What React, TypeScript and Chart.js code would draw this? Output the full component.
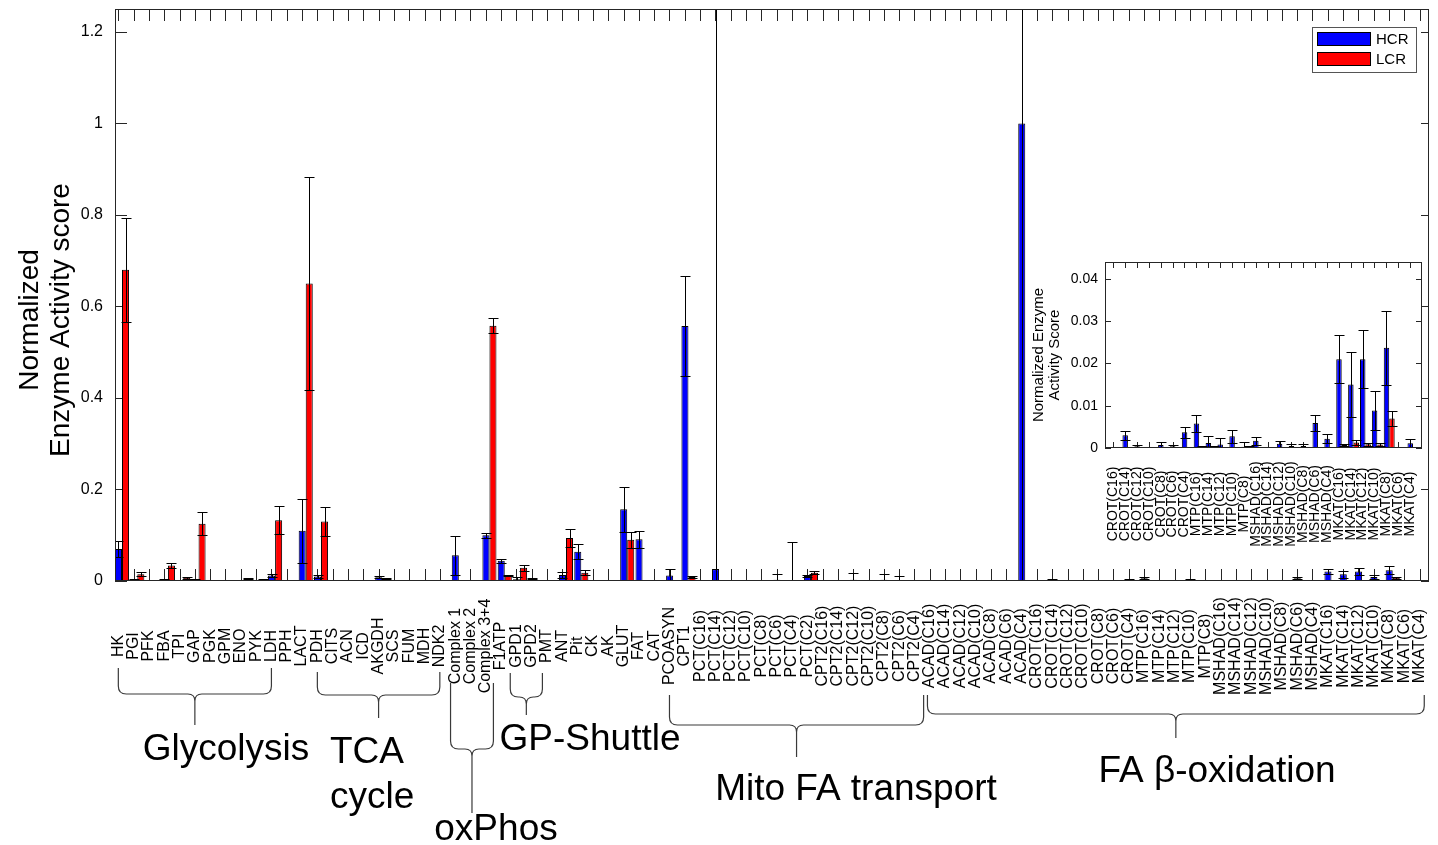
import React, { useEffect, useRef } from "react";
import { Chart, registerables } from "chart.js";

Chart.register(...registerables);

const FONT = '"Liberation Sans", Arial, Helvetica, sans-serif';
const HCR_COLOR = "#0000ff";
const LCR_COLOR = "#ff0000";
const AXIS_COLOR = "#262626";

// ---------------- data ----------------
const categories = [
  "HK", "PGI", "PFK", "FBA", "TPI", "GAP", "PGK", "GPM", "ENO", "PYK",
  "LDH", "PPH", "LACT", "PDH", "CITS", "ACN", "ICD", "AKGDH", "SCS", "FUM",
  "MDH", "NDK2", "Complex 1", "Complex 2", "Complex 3+4", "F1ATP", "GPD1", "GPD2", "PMT", "ANT",
  "Pit", "CK", "AK", "GLUT", "FAT", "CAT", "PCOASYN", "CPT1", "PCT(C16)", "PCT(C14)",
  "PCT(C12)", "PCT(C10)", "PCT(C8)", "PCT(C6)", "PCT(C4)", "PCT(C2)", "CPT2(C16)", "CPT2(C14)", "CPT2(C12)", "CPT2(C10)",
  "CPT2(C8)", "CPT2(C6)", "CPT2(C4)", "ACAD(C16)", "ACAD(C14)", "ACAD(C12)", "ACAD(C10)", "ACAD(C8)", "ACAD(C6)", "ACAD(C4)",
  "CROT(C16)", "CROT(C14)", "CROT(C12)", "CROT(C10)", "CROT(C8)", "CROT(C6)", "CROT(C4)", "MTP(C16)", "MTP(C14)", "MTP(C12)",
  "MTP(C10)", "MTP(C8)", "MSHAD(C16)", "MSHAD(C14)", "MSHAD(C12)", "MSHAD(C10)", "MSHAD(C8)", "MSHAD(C6)", "MSHAD(C4)", "MKAT(C16)",
  "MKAT(C14)", "MKAT(C12)", "MKAT(C10)", "MKAT(C8)", "MKAT(C6)", "MKAT(C4)",
];

const hcr = [
  0.07, 0.003, 0.001, 0.003, 0.002, 0.003, 0.001, 0, 0.001, 0.002,
  0.012, 0, 0.11, 0.01, 0, 0.001, 0.001, 0.008, 0.001, 0.001,
  0.001, 0.001, 0.056, 0, 0.1, 0.044, 0.004, 0.005, 0.001, 0.013,
  0.064, 0, 0, 0.157, 0.091, 0, 0.012, 0.557, 0, 0.026,
  0.001, 0.001, 0, 0.003, 0.001, 0.011, 0.001, 0, 0.003, 0,
  0.003, 0.002, 0.001, 0, 0, 0, 0.001, 0, 0, 1.0,
  0.0002, 0.003, 0.0004, 0.0002, 0.0007, 0.0004, 0.0037, 0.0058, 0.0012, 0.0008,
  0.0028, 0.0003, 0.0017, 0.0001, 0.001, 0.0005, 0.0005, 0.0059, 0.0022, 0.021,
  0.015, 0.021, 0.0089, 0.0237, 0.0002, 0.0011,
];

const hcrErr = [
  0.017, 0.001, 0.0005, 0.001, 0.001, 0.001, 0.0005, 0, 0, 0.001,
  0.004, 0, 0.07, 0.003, 0, 0, 0.001, 0.002, 0.001, 0.001,
  0.001, 0.001, 0.042, 0, 0.005, 0.004, 0.004, 0.001, 0.001, 0.006,
  0.017, 0, 0, 0.049, 0.019, 0, 0.015, 0.11, 0, 1.3,
  0, 0, 0, 0.012, 0.085, 0.003, 0, 0, 0.014, 0,
  0.013, 0.01, 0, 0, 0, 0, 0.002, 0, 0, 1.2,
  0.0001, 0.001, 0.0002, 0.0001, 0.0007, 0.0004, 0.0013, 0.0019, 0.0016, 0.0015,
  0.0015, 0.0011, 0.001, 0.0001, 0.0007, 0.0004, 0.0005, 0.0018, 0.001, 0.0057,
  0.0076, 0.0068, 0.0046, 0.0088, 0.0001, 0.0011,
];

const lcr = [
  0.68, 0.015, 0.002, 0.034, 0.007, 0.125, 0.001, 0, 0.005, 0.004,
  0.133, 0, 0.65, 0.13, 0, 0, 0.001, 0.005, 0.001, 0,
  0, 0.001, 0, 0, 0.558, 0.012, 0.029, 0.002, 0.001, 0.094,
  0.018, 0, 0, 0.09, 0.002, 0, 0, 0.009, 0, 0,
  0.001, 0.001, 0, 0, 0, 0.018, 0, 0, 0, 0,
  0, 0.001, 0, 0, 0, 0, 0, 0, 0, 0,
  0.0001, 0.0001, 0.0001, 0.0001, 0.0001, 0.0001, 0.0001, 0.0003, 0.0003, 0.0002,
  0.0002, 0.0003, 0.0001, 0.0001, 0.0001, 0.0001, 0.0001, 0.0001, 0.0001, 0.0007,
  0.0013, 0.0009, 0.0008, 0.007, 0.0002, 0.0001,
];

const lcrErr = [
  0.113, 0.004, 0.001, 0.006, 0.002, 0.025, 0.0005, 0, 0.001, 0.001,
  0.03, 0, 0.232, 0.031, 0, 0, 0, 0.001, 0, 0,
  0, 0, 0, 0, 0.016, 0.001, 0.007, 0.001, 0, 0.019,
  0.005, 0, 0, 0.017, 0.001, 0, 0, 0.002, 0, 0,
  0, 0, 0, 0, 0, 0.003, 0, 0, 0, 0,
  0, 0, 0, 0, 0, 0, 0, 0, 0, 0,
  0.0001, 0, 0, 0, 0, 0, 0, 0.0001, 0.0001, 0.0001,
  0.0001, 0.0002, 0, 0, 0, 0, 0, 0, 0, 0.0003,
  0.0007, 0.0004, 0.0004, 0.0018, 0.0001, 0,
];

const yTicks = [0, 0.2, 0.4, 0.6, 0.8, 1, 1.2];
const insetYTicks = [0, 0.01, 0.02, 0.03, 0.04];
const INSET_FROM = 60; // inset shows CROT(C16) .. MKAT(C4)

const seriesNames = ["HCR", "LCR"];
const yTitle = ["Normalized", "Enzyme Activity score"];
const insetYTitle = ["Normalized Enzyme", "Activity Score"];

// group annotations (brace spans in category index units, vertical layout in px)
const braces = [
  { from: 0, to: 10, top: 668, mid: 694, tip: 725, texts: [{ t: "Glycolysis", x: 226, y: 760, align: "center" }] },
  { from: 13, to: 21, top: 672, mid: 695, tip: 718, texts: [{ t: "TCA", x: 330, y: 763, align: "left" }, { t: "cycle", x: 330, y: 808, align: "left" }] },
  { from: 21.7, to: 24.5, top: 683, mid: 749, tip: 813, texts: [{ t: "oxPhos", x: 496, y: 840, align: "center" }] },
  { from: 25.6, to: 27.7, top: 673, mid: 697, tip: 715, texts: [{ t: "GP-Shuttle", x: 590, y: 750, align: "center" }] },
  { from: 36, to: 52.6, top: 695, mid: 725, tip: 757, texts: [{ t: "Mito FA transport", x: 856, y: 800, align: "center" }] },
  { from: 52.85, to: 85.3, top: 695, mid: 714, tip: 738, texts: [{ t: "FA \u03b2-oxidation", x: 1217, y: 782, align: "center" }] },
];

const LABEL_SHIFT = -0.24;

// ---------------- helpers ----------------
function errorBarPlugin(errs: number[][], capW: number) {
  return {
    id: "errbars",
    afterDatasetsDraw(chart: any) {
      const { ctx, chartArea: a } = chart;
      const ys = chart.scales.y;
      ctx.save();
      ctx.beginPath();
      ctx.rect(a.left, a.top, a.right - a.left, a.bottom - a.top);
      ctx.clip();
      ctx.strokeStyle = "#000";
      ctx.lineWidth = 1;
      chart.data.datasets.forEach((ds: any, di: number) => {
        const meta = chart.getDatasetMeta(di);
        meta.data.forEach((el: any, i: number) => {
          const e = errs[di][i];
          if (!e) return;
          const v = ds.data[i].y;
          const x = Math.round(el.x) + 0.5;
          const yHi = Math.round(ys.getPixelForValue(v + e)) + 0.5;
          const yLo = Math.round(ys.getPixelForValue(v - e)) + 0.5;
          ctx.beginPath();
          ctx.moveTo(x, yLo);
          ctx.lineTo(x, yHi);
          ctx.moveTo(x - capW / 2, yHi);
          ctx.lineTo(x + capW / 2, yHi);
          ctx.moveTo(x - capW / 2, yLo);
          ctx.lineTo(x + capW / 2, yLo);
          ctx.stroke();
        });
      });
      ctx.restore();
    },
  };
}

function rotatedText(ctx: CanvasRenderingContext2D, text: string, x: number, y: number) {
  ctx.save();
  ctx.translate(x, y);
  ctx.rotate(-Math.PI / 2);
  ctx.fillText(text, 0, 0);
  ctx.restore();
}

function drawBrace(ctx: CanvasRenderingContext2D, xl: number, xr: number, top: number, mid: number, tip: number) {
  const xc = (xl + xr) / 2;
  const r = Math.min(8, (mid - top) / 2, (xr - xl) / 4);
  const r2 = Math.min(7, (tip - mid) / 2, (xr - xl) / 4);
  ctx.beginPath();
  ctx.moveTo(xl, top);
  ctx.lineTo(xl, mid - r);
  ctx.quadraticCurveTo(xl, mid, xl + r, mid);
  ctx.lineTo(xc - r2, mid);
  ctx.quadraticCurveTo(xc, mid, xc, mid + r2);
  ctx.lineTo(xc, tip);
  ctx.moveTo(xc, mid + r2);
  ctx.quadraticCurveTo(xc, mid, xc + r2, mid);
  ctx.lineTo(xr - r, mid);
  ctx.quadraticCurveTo(xr, mid, xr, mid - r);
  ctx.lineTo(xr, top);
  ctx.stroke();
}

function barDatasets(from: number, to: number) {
  return [
    {
      label: seriesNames[0],
      data: hcr.slice(from, to).map((v, i) => ({ x: i, y: v })),
      backgroundColor: HCR_COLOR,
      borderColor: "#000",
      borderWidth: 1,
      borderSkipped: false,
      categoryPercentage: 0.92,
      barPercentage: 1,
    },
    {
      label: seriesNames[1],
      data: lcr.slice(from, to).map((v, i) => ({ x: i, y: v })),
      backgroundColor: LCR_COLOR,
      borderColor: "#000",
      borderWidth: 1,
      borderSkipped: false,
      categoryPercentage: 0.92,
      barPercentage: 1,
    },
  ];
}

// ---------------- main chart ----------------
function mainConfig(): any {
  const decor = {
    id: "mainDecor",
    beforeDatasetsDraw(chart: any) {
      const { ctx, chartArea: a, scales } = chart;
      const x = scales.x, y = scales.y;
      ctx.save();
      ctx.strokeStyle = AXIS_COLOR;
      ctx.lineWidth = 1;
      ctx.beginPath();
      categories.forEach((_, i) => {
        const px = Math.round(x.getPixelForValue(i + LABEL_SHIFT)) + 0.5;
        ctx.moveTo(px, a.top);
        ctx.lineTo(px, a.top + 12);
        ctx.moveTo(px, a.bottom);
        ctx.lineTo(px, a.bottom - 12);
      });
      yTicks.forEach((v) => {
        const py = Math.round(y.getPixelForValue(v)) + 0.5;
        ctx.moveTo(a.left, py);
        ctx.lineTo(a.left + 12, py);
        ctx.moveTo(a.right, py);
        ctx.lineTo(a.right - 8, py);
      });
      ctx.stroke();
      ctx.restore();
    },
    afterDraw(chart: any) {
      const { ctx, chartArea: a, scales } = chart;
      const x = scales.x;
      ctx.save();
      // axes box
      ctx.strokeStyle = AXIS_COLOR;
      ctx.lineWidth = 1;
      ctx.strokeRect(a.left + 0.5, a.top + 0.5, a.right - a.left - 1, a.bottom - a.top - 1);

      // category labels
      ctx.fillStyle = "#000";
      ctx.font = `16px ${FONT}`;
      ctx.textAlign = "center";
      ctx.textBaseline = "middle";
      categories.forEach((c, i) => {
        rotatedText(ctx, c, x.getPixelForValue(i + LABEL_SHIFT), 646);
      });

      // braces and group names
      ctx.strokeStyle = "#3a3a3a";
      ctx.lineWidth = 1.2;
      ctx.font = `37px ${FONT}`;
      ctx.textBaseline = "alphabetic";
      braces.forEach((b) => {
        const xl = x.getPixelForValue(b.from + LABEL_SHIFT);
        const xr = x.getPixelForValue(b.to + LABEL_SHIFT);
        drawBrace(ctx, xl, xr, b.top, b.mid, b.tip);
        b.texts.forEach((t) => {
          ctx.textAlign = t.align as CanvasTextAlign;
          ctx.fillText(t.t, t.x, t.y);
        });
      });

      // y title
      ctx.font = `28px ${FONT}`;
      ctx.textAlign = "center";
      ctx.textBaseline = "alphabetic";
      rotatedText(ctx, yTitle[0], 38, 320);
      rotatedText(ctx, yTitle[1], 69, 320);

      // legend
      const lx = 1312, ly = 27, lw = 104, lh = 45;
      ctx.fillStyle = "#fff";
      ctx.fillRect(lx, ly, lw, lh);
      ctx.strokeStyle = "#555";
      ctx.lineWidth = 1;
      ctx.strokeRect(lx + 0.5, ly + 0.5, lw, lh);
      [HCR_COLOR, LCR_COLOR].forEach((col, k) => {
        const sy = ly + 5 + k * 20;
        ctx.fillStyle = col;
        ctx.fillRect(lx + 5, sy, 54, 14);
        ctx.strokeStyle = "#000";
        ctx.strokeRect(lx + 5.5, sy + 0.5, 53, 13);
        ctx.fillStyle = "#000";
        ctx.font = `15px ${FONT}`;
        ctx.textAlign = "left";
        ctx.textBaseline = "middle";
        ctx.fillText(seriesNames[k], lx + 64, sy + 7.5);
      });
      ctx.restore();
    },
  };

  return {
    type: "bar",
    data: { datasets: barDatasets(0, categories.length) },
    options: {
      responsive: false,
      animation: false,
      devicePixelRatio: 1,
      layout: { padding: { top: 9, right: 9, left: 0, bottom: 0 } },
      plugins: { legend: { display: false }, tooltip: { enabled: false } },
      scales: {
        x: {
          type: "linear",
          min: -0.457,
          max: 85.37,
          offset: false,
          grid: { display: false, drawTicks: false, offset: false },
          border: { display: false },
          ticks: { display: false },
          afterBuildTicks: (s: any) => {
            s.ticks = categories.map((_, i) => ({ value: i }));
          },
          afterFit: (s: any) => {
            s.height = 264;
            s.paddingLeft = 0;
            s.paddingRight = 0;
          },
        },
        y: {
          min: 0,
          max: 1.25,
          grid: { display: false, drawTicks: false },
          border: { display: false },
          ticks: {
            color: "#000",
            font: { family: FONT, size: 16 },
            padding: 12,
            autoSkip: false,
            callback: (v: number) => String(v),
          },
          afterBuildTicks: (s: any) => {
            s.ticks = yTicks.map((v) => ({ value: v }));
          },
          afterFit: (s: any) => {
            s.width = 115;
            s.paddingTop = 0;
            s.paddingBottom = 0;
          },
        },
      },
    },
    plugins: [errorBarPlugin([hcrErr, lcrErr], 10), decor],
  };
}

// ---------------- inset chart ----------------
function insetConfig(): any {
  const insetCats = categories.slice(INSET_FROM);
  const decor = {
    id: "insetDecor",
    beforeDraw(chart: any) {
      const { ctx, chartArea: a } = chart;
      ctx.save();
      ctx.fillStyle = "#fff";
      ctx.fillRect(a.left, a.top, a.right - a.left, a.bottom - a.top);
      ctx.restore();
    },
    beforeDatasetsDraw(chart: any) {
      const { ctx, chartArea: a, scales } = chart;
      const x = scales.x, y = scales.y;
      ctx.save();
      ctx.strokeStyle = AXIS_COLOR;
      ctx.lineWidth = 1;
      ctx.beginPath();
      insetCats.forEach((_, i) => {
        const px = Math.round(x.getPixelForValue(i + LABEL_SHIFT)) + 0.5;
        ctx.moveTo(px, a.top);
        ctx.lineTo(px, a.top + 6);
        ctx.moveTo(px, a.bottom);
        ctx.lineTo(px, a.bottom - 6);
      });
      insetYTicks.forEach((v) => {
        const py = Math.round(y.getPixelForValue(v)) + 0.5;
        ctx.moveTo(a.left, py);
        ctx.lineTo(a.left + 6, py);
        ctx.moveTo(a.right, py);
        ctx.lineTo(a.right - 6, py);
      });
      ctx.stroke();
      ctx.restore();
    },
    afterDraw(chart: any) {
      const { ctx, chartArea: a, scales } = chart;
      const x = scales.x;
      ctx.save();
      ctx.strokeStyle = AXIS_COLOR;
      ctx.lineWidth = 1;
      ctx.strokeRect(a.left + 0.5, a.top + 0.5, a.right - a.left - 1, a.bottom - a.top - 1);
      ctx.fillStyle = "#000";
      ctx.font = `14px ${FONT}`;
      ctx.textAlign = "center";
      ctx.textBaseline = "middle";
      insetCats.forEach((c, i) => {
        rotatedText(ctx, c, x.getPixelForValue(i + LABEL_SHIFT), 254);
      });
      ctx.font = `15px ${FONT}`;
      ctx.textBaseline = "alphabetic";
      const cy = (a.top + a.bottom) / 2;
      rotatedText(ctx, insetYTitle[0], 43, cy);
      rotatedText(ctx, insetYTitle[1], 59, cy);
      ctx.restore();
    },
  };

  return {
    type: "bar",
    data: { datasets: barDatasets(INSET_FROM, categories.length) },
    options: {
      responsive: false,
      animation: false,
      devicePixelRatio: 1,
      layout: { padding: { top: 12, right: 16, left: 0, bottom: 0 } },
      plugins: { legend: { display: false }, tooltip: { enabled: false } },
      scales: {
        x: {
          type: "linear",
          min: -0.93,
          max: 25.76,
          offset: false,
          grid: { display: false, drawTicks: false, offset: false },
          border: { display: false },
          ticks: { display: false },
          afterBuildTicks: (s: any) => {
            s.ticks = insetCats.map((_, i) => ({ value: i }));
          },
          afterFit: (s: any) => {
            s.height = 122;
            s.paddingLeft = 0;
            s.paddingRight = 0;
          },
        },
        y: {
          min: 0,
          max: 0.044,
          grid: { display: false, drawTicks: false },
          border: { display: false },
          ticks: {
            color: "#000",
            font: { family: FONT, size: 14 },
            padding: 7,
            autoSkip: false,
            callback: (v: number) => String(v),
          },
          afterBuildTicks: (s: any) => {
            s.ticks = insetYTicks.map((v) => ({ value: v }));
          },
          afterFit: (s: any) => {
            s.width = 105;
            s.paddingTop = 0;
            s.paddingBottom = 0;
          },
        },
      },
    },
    plugins: [errorBarPlugin([hcrErr.slice(INSET_FROM), lcrErr.slice(INSET_FROM)], 10), decor],
  };
}

export default function App() {
  const mainRef = useRef<HTMLCanvasElement>(null);
  const insetRef = useRef<HTMLCanvasElement>(null);

  useEffect(() => {
    const main = new Chart(mainRef.current as HTMLCanvasElement, mainConfig());
    const inset = new Chart(insetRef.current as HTMLCanvasElement, insetConfig());
    return () => {
      main.destroy();
      inset.destroy();
    };
  }, []);

  return (
    <div
      style={{
        position: "fixed",
        left: 0,
        top: 0,
        width: 1438,
        height: 845,
        background: "#fff",
        overflow: "hidden",
      }}
    >
      <canvas
        ref={mainRef}
        width={1438}
        height={845}
        style={{ position: "absolute", left: 0, top: 0, width: 1438, height: 845 }}
      />
      <canvas
        ref={insetRef}
        width={438}
        height={320}
        style={{ position: "absolute", left: 1000, top: 250, width: 438, height: 320 }}
      />
    </div>
  );
}
